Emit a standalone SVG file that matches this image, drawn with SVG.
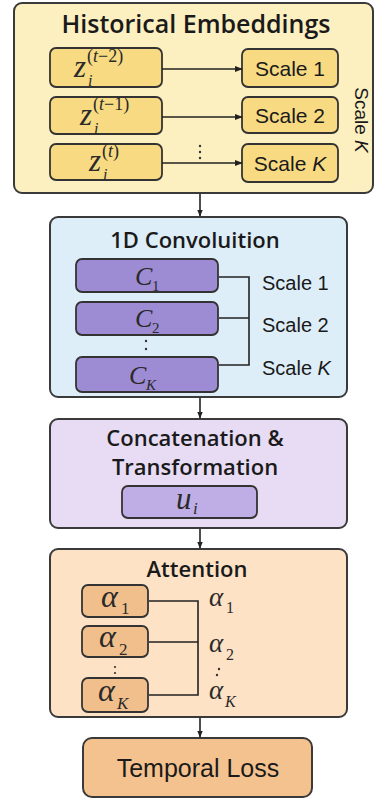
<svg xmlns="http://www.w3.org/2000/svg" width="380" height="800" viewBox="0 0 380 800">
<style>
.frame{stroke:#3a3a3a;stroke-width:2}
.inner{stroke:#333;stroke-width:1.8}
.title{font-family:"Open Sans","Liberation Sans",sans-serif;font-weight:600;fill:#1a1a1a;text-anchor:middle}
.lbl{font-family:"Liberation Sans",Arial,sans-serif;fill:#1a1a1a}
.math{font-family:"Liberation Serif","Times New Roman",serif;font-style:italic;fill:#2a2a2a}
.sub{font-family:"Liberation Serif","Times New Roman",serif;fill:#2a2a2a}
.ln{stroke:#222;stroke-width:1.6;fill:none}
.dot{fill:#333}
</style>
<defs>
<marker id="ah" viewBox="0 0 10 10" refX="9" refY="5" markerWidth="7" markerHeight="7" orient="auto" markerUnits="userSpaceOnUse">
<path d="M0,1 L10,5 L0,9 z" fill="#222"/>
</marker>
<marker id="ahs" viewBox="0 0 10 10" refX="9" refY="5" markerWidth="8" markerHeight="8" orient="auto" markerUnits="userSpaceOnUse">
<path d="M0,1 L10,5 L0,9 z" fill="#222"/>
</marker>
</defs>
<rect width="380" height="800" fill="#ffffff"/>

<g id="historical">
<rect class="frame" x="14" y="3" width="359" height="190" rx="8" fill="#fcefc0"/>
<text class="title" x="196" y="33" font-size="25">Historical Embeddings</text>
<text class="lbl" x="355" y="120" font-size="19" text-anchor="middle" transform="rotate(90 355 120)">Scale <tspan font-style="italic">K</tspan></text>
</g>

<g id="z1">
<rect class="inner" x="50" y="48" width="112" height="39" rx="6" fill="#f8da82"/>
<text class="math" x="74" y="77" font-size="31">z</text>
<text class="math" x="88" y="86" font-size="16">i</text>
<text class="sub" x="87" y="62" font-size="18">(<tspan font-style="italic">t</tspan>−2)</text>
</g>
<g id="z2">
<rect class="inner" x="50" y="97" width="112" height="37" rx="6" fill="#f8da82"/>
<text class="math" x="80" y="125" font-size="31">z</text>
<text class="math" x="94" y="134" font-size="16">i</text>
<text class="sub" x="93" y="110" font-size="18">(<tspan font-style="italic">t</tspan>−1)</text>
</g>
<g id="z3">
<rect class="inner" x="50" y="144" width="112" height="36" rx="6" fill="#f8da82"/>
<text class="math" x="89" y="171" font-size="31">z</text>
<text class="math" x="103" y="180" font-size="16">i</text>
<text class="sub" x="102" y="157" font-size="18">(<tspan font-style="italic">t</tspan>)</text>
</g>
<g id="hdots">
<circle class="dot" cx="200" cy="146" r="1.2"/>
<circle class="dot" cx="200" cy="152" r="1.2"/>
<circle class="dot" cx="200" cy="158" r="1.2"/>
</g>
<g id="s1">
<rect class="inner" x="242" y="49" width="96" height="38" rx="6" fill="#f8da82"/>
<text class="lbl" x="290" y="76" font-size="21" text-anchor="middle">Scale 1</text>
</g>
<g id="s2">
<rect class="inner" x="242" y="97" width="96" height="36" rx="6" fill="#f8da82"/>
<text class="lbl" x="290" y="123" font-size="21" text-anchor="middle">Scale 2</text>
</g>
<g id="sK">
<rect class="inner" x="242" y="144" width="96" height="38" rx="6" fill="#f8da82"/>
<text class="lbl" x="290" y="171" font-size="21" text-anchor="middle">Scale <tspan font-style="italic">K</tspan></text>
</g>

<g id="conv">
<rect class="frame" x="50" y="217" width="297" height="180" rx="8" fill="#ddeef9"/>
<text class="title" x="195" y="248" font-size="22">1D Convoluition</text>
<text class="lbl" x="262" y="290" font-size="20">Scale 1</text>
<text class="lbl" x="262" y="332" font-size="20">Scale 2</text>
<text class="lbl" x="262" y="375" font-size="20">Scale <tspan font-style="italic">K</tspan></text>
</g>
<g id="c1">
<rect class="inner" x="76" y="259" width="142" height="33" rx="6" fill="#9d8bd4"/>
<text class="math" x="135" y="285" font-size="26">C</text>
<text class="sub" x="152" y="291" font-size="15">1</text>
</g>
<g id="c2">
<rect class="inner" x="76" y="302" width="142" height="33" rx="6" fill="#9d8bd4"/>
<text class="math" x="135" y="327" font-size="26">C</text>
<text class="sub" x="152" y="333" font-size="15">2</text>
</g>
<g id="cdots">
<circle class="dot" cx="146" cy="341" r="1.2"/>
<circle class="dot" cx="146" cy="349" r="1.2"/>
</g>
<g id="cK">
<rect class="inner" x="76" y="357" width="142" height="35" rx="6" fill="#9d8bd4"/>
<text class="math" x="129" y="384" font-size="26">C</text>
<text class="math" x="146" y="390" font-size="15">K</text>
</g>

<g id="concat">
<rect class="frame" x="50" y="419" width="297" height="109" rx="8" fill="#e7dcf4"/>
<text class="title" x="195" y="446" font-size="22">Concatenation &amp;</text>
<text class="title" x="195" y="475" font-size="22">Transformation</text>
</g>
<g id="ui">
<rect class="inner" x="122" y="486" width="135" height="32" rx="6" fill="#bfaee6"/>
<text class="math" x="176" y="509" font-size="31">u</text>
<text class="math" x="193" y="514" font-size="17">i</text>
</g>

<g id="attention">
<rect class="frame" x="50" y="549" width="297" height="168" rx="8" fill="#fde2c6"/>
<text class="title" x="197" y="577" font-size="22">Attention</text>
<text class="math" x="209" y="606" font-size="27">α</text>
<text class="sub" x="226" y="613" font-size="16">1</text>
<text class="math" x="209" y="652" font-size="27">α</text>
<text class="sub" x="226" y="660" font-size="16">2</text>
<circle class="dot" cx="219" cy="669" r="1.2"/>
<circle class="dot" cx="217" cy="675" r="1.2"/>
<text class="math" x="209" y="699" font-size="27">α</text>
<text class="math" x="225" y="707" font-size="16">K</text>
</g>
<g id="a1">
<rect class="inner" x="82" y="585" width="66" height="32" rx="6" fill="#f0bf8c"/>
<text class="math" x="101" y="607" font-size="32">α</text>
<text class="sub" x="121" y="614" font-size="17">1</text>
</g>
<g id="a2">
<rect class="inner" x="82" y="626" width="66" height="31" rx="6" fill="#f0bf8c"/>
<text class="math" x="99" y="647" font-size="32">α</text>
<text class="sub" x="119" y="655" font-size="17">2</text>
</g>
<g id="adots">
<circle class="dot" cx="115" cy="667" r="1.1"/>
<circle class="dot" cx="115" cy="673" r="1.1"/>
</g>
<g id="aK">
<rect class="inner" x="82" y="678" width="66" height="34" rx="6" fill="#f0bf8c"/>
<text class="math" x="98" y="701" font-size="32">α</text>
<text class="math" x="117" y="709" font-size="17">K</text>
</g>

<g id="loss">
<rect class="frame" x="83" y="738" width="229" height="59" rx="9" fill="#f4c28e"/>
<text class="lbl" x="198" y="777" font-size="25" text-anchor="middle">Temporal Loss</text>
</g>

<g id="connectors">
<line class="ln" x1="162" y1="69" x2="242" y2="69" marker-end="url(#ahs)"/>
<line class="ln" x1="162" y1="117" x2="242" y2="117" marker-end="url(#ahs)"/>
<line class="ln" x1="162" y1="163" x2="242" y2="163" marker-end="url(#ahs)"/>
<line class="ln" x1="200" y1="194" x2="200" y2="216" marker-end="url(#ah)"/>
<line class="ln" x1="200" y1="398" x2="200" y2="418" marker-end="url(#ah)"/>
<line class="ln" x1="200" y1="529" x2="200" y2="548" marker-end="url(#ah)"/>
<line class="ln" x1="200" y1="718" x2="200" y2="737" marker-end="url(#ah)"/>
<path class="ln" d="M219,277 H249 V365 H219 M219,318 H249"/>
<path class="ln" d="M149,601 H198 V695 H149 M149,642 H198"/>
</g>
</svg>
